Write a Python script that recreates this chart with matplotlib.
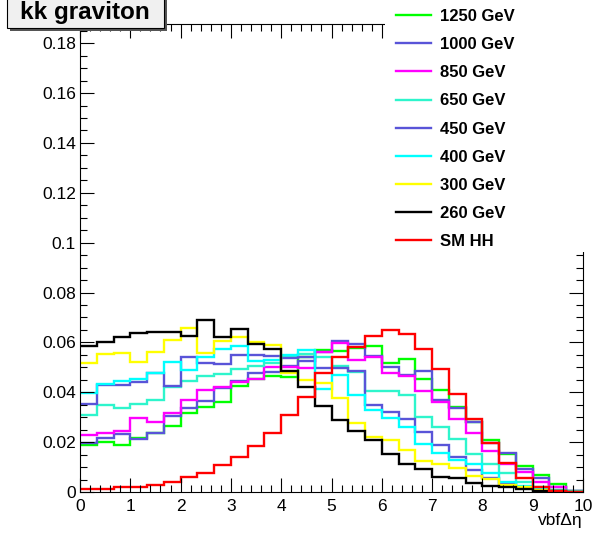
import numpy as np
import matplotlib
matplotlib.use("Agg")
import matplotlib.pyplot as plt
from matplotlib.ticker import MultipleLocator, FuncFormatter
from matplotlib.patches import Rectangle

plt.rcParams['font.family'] = ['Liberation Sans', 'DejaVu Sans']

# 30 bins of vbf delta eta, 0..10
edges = np.linspace(0, 10, 31)

m1250 = [0.0187, 0.0202, 0.0188, 0.0215, 0.0238, 0.0266, 0.0318, 0.0340, 0.0362, 0.0425,
         0.0455, 0.0465, 0.0462, 0.0540, 0.0570, 0.0567, 0.0576, 0.0587, 0.0516, 0.0532,
         0.0455, 0.0409, 0.0339, 0.0282, 0.0208, 0.0153, 0.0104, 0.0070, 0.0032, 0.0004]
m1000 = [0.0198, 0.0215, 0.0233, 0.0211, 0.0238, 0.0305, 0.0335, 0.0366, 0.0416, 0.0446,
         0.0476, 0.0482, 0.0505, 0.0525, 0.0560, 0.0607, 0.0593, 0.0544, 0.0500, 0.0471,
         0.0486, 0.0369, 0.0335, 0.0282, 0.0195, 0.0158, 0.0091, 0.0055, 0.0021, 0.0004]
m850 = [0.0229, 0.0238, 0.0245, 0.0295, 0.0282, 0.0318, 0.0369, 0.0409, 0.0420, 0.0442,
        0.0452, 0.0500, 0.0500, 0.0496, 0.0561, 0.0598, 0.0529, 0.0540, 0.0478, 0.0467,
        0.0405, 0.0362, 0.0293, 0.0238, 0.0166, 0.0111, 0.0079, 0.0041, 0.0021, 0.0005]
m650 = [0.0307, 0.0349, 0.0335, 0.0354, 0.0370, 0.0421, 0.0445, 0.0465, 0.0475, 0.0492,
        0.0505, 0.0516, 0.0543, 0.0555, 0.0540, 0.0505, 0.0482, 0.0404, 0.0406, 0.0389,
        0.0299, 0.0260, 0.0213, 0.0152, 0.0112, 0.0075, 0.0041, 0.0022, 0.0009, 0.0003]
m450 = [0.0353, 0.0429, 0.0429, 0.0442, 0.0476, 0.0424, 0.0543, 0.0516, 0.0512, 0.0549,
        0.0549, 0.0545, 0.0536, 0.0543, 0.0497, 0.0497, 0.0485, 0.0350, 0.0322, 0.0291,
        0.0242, 0.0188, 0.0142, 0.0088, 0.0055, 0.0031, 0.0015, 0.0008, 0.0003, 0.0001]
m400 = [0.0398, 0.0433, 0.0446, 0.0452, 0.0476, 0.0520, 0.0490, 0.0540, 0.0574, 0.0585,
        0.0527, 0.0530, 0.0549, 0.0568, 0.0415, 0.0469, 0.0390, 0.0330, 0.0295, 0.0262,
        0.0192, 0.0158, 0.0127, 0.0112, 0.0075, 0.0041, 0.0024, 0.0012, 0.0005, 0.0002]
m300 = [0.0516, 0.0553, 0.0556, 0.0523, 0.0563, 0.0610, 0.0656, 0.0559, 0.0606, 0.0620,
        0.0600, 0.0590, 0.0478, 0.0450, 0.0438, 0.0376, 0.0277, 0.0222, 0.0208, 0.0168,
        0.0124, 0.0112, 0.0095, 0.0064, 0.0051, 0.0028, 0.0019, 0.0009, 0.0004, 0.0001]
m260 = [0.0585, 0.0600, 0.0623, 0.0636, 0.0641, 0.0640, 0.0625, 0.0688, 0.0620, 0.0655,
        0.0593, 0.0572, 0.0486, 0.0420, 0.0345, 0.0289, 0.0246, 0.0207, 0.0153, 0.0113,
        0.0091, 0.0061, 0.0055, 0.0036, 0.0024, 0.0019, 0.0011, 0.0006, 0.0003, 0.0001]
smhh = [0.0012, 0.0013, 0.0019, 0.0021, 0.0028, 0.0041, 0.0061, 0.0075, 0.0108, 0.0142,
        0.0184, 0.0237, 0.0309, 0.0382, 0.0476, 0.0543, 0.0583, 0.0625, 0.0650, 0.0632,
        0.0575, 0.0492, 0.0393, 0.0294, 0.0198, 0.0115, 0.0057, 0.0021, 0.0006, 0.0002]

labels = ['1250 GeV', '1000 GeV', '850 GeV', '650 GeV', '450 GeV',
          '400 GeV', '300 GeV', '260 GeV', 'SM HH']
series = [m1250, m1000, m850, m650, m450, m400, m300, m260, smhh]
colors = ['#00ff00', '#5954d8', '#ff00ff', '#2ef5cc', '#5954d8',
          '#00ffff', '#ffff00', '#000000', '#ff0000']

fig = plt.figure(figsize=(5.93, 5.38), dpi=100)
ax = fig.add_axes([80/593, 46/538, 503/593, 468/538])

handles = []
for vals, c, lab in zip(series, colors, labels):
    ax.stairs(vals, edges, baseline=None, color=c, linewidth=1.7, label=lab)
    handles.append(plt.Line2D([], [], color=c, linewidth=1.7))

ax.set_xlim(0, 10)
ax.set_ylim(0, 0.1877)
ax.xaxis.set_major_locator(MultipleLocator(1))
ax.xaxis.set_minor_locator(MultipleLocator(0.2))
ax.yaxis.set_major_locator(MultipleLocator(0.02))
ax.yaxis.set_minor_locator(MultipleLocator(0.005))
ax.yaxis.set_major_formatter(FuncFormatter(lambda v, p: '%g' % round(v, 3)))
ax.tick_params(which='both', direction='in', top=True, right=True, labelsize=12.5)
ax.tick_params(which='major', length=10, width=0.8)
ax.tick_params(which='minor', length=5, width=0.8)
ax.tick_params(axis='x', pad=5)
ax.tick_params(axis='y', pad=3)
for s in ax.spines.values():
    s.set_linewidth(0.8)

fig.text(583/593, 1 - 521/538, 'vbf\u0394\u03b7', ha='right', va='center', fontsize=12.5)

# legend area (white, no border) covering the top right
fig.patches.append(Rectangle((385/593, 1 - 252/538), 208/593, 252/538,
                             transform=fig.transFigure, facecolor='white',
                             edgecolor='none', zorder=10))
leg = fig.legend(handles, labels, loc='upper left', bbox_to_anchor=(388/593, 1 - 0.5/538),
                 frameon=False, borderpad=0, handlelength=2.1, handletextpad=0.5,
                 labelspacing=0.79, prop={'weight': 'bold', 'size': 12})
leg.set_zorder(11)

# title box with shadow
fig.patches.append(Rectangle((10/593, 1 - 31/538), 157/593, 33/538, transform=fig.transFigure,
                             facecolor='#555555', edgecolor='none', zorder=12))
fig.patches.append(Rectangle((7/593, 1 - 28/538), 157/593, 30/538, transform=fig.transFigure,
                             facecolor='#f0f0f0', edgecolor='black', linewidth=0.8, zorder=13))
fig.text(85/593, 1 - 13/538, 'kk graviton', ha='center', va='center', fontsize=17.5,
         fontweight='bold', zorder=14)

fig.savefig('out.png', dpi=100)
